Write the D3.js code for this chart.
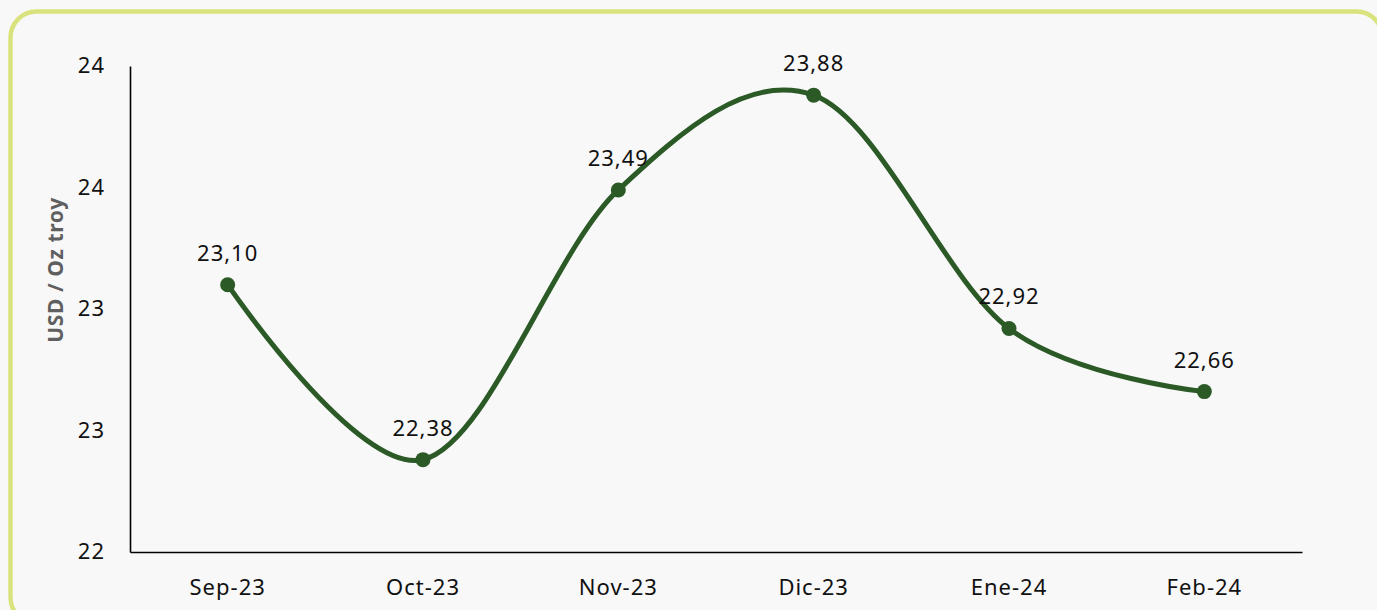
<!DOCTYPE html>
<html>
<head>
<meta charset="utf-8">
<script src="https://cdn.jsdelivr.net/npm/d3@7/dist/d3.min.js"></script>
<style>
  html, body { margin: 0; padding: 0; background: #f8f8f8; }
  svg { display: block; }
  text { font-family: "Noto Sans", "Open Sans", sans-serif; }
</style>
</head>
<body>
<svg id="chart" width="1377" height="610"></svg>
<script>
const categories = ["Sep-23", "Oct-23", "Nov-23", "Dic-23", "Ene-24", "Feb-24"];
const values = [23.10, 22.38, 23.49, 23.88, 22.92, 22.66];
const valueLabels = ["23,10", "22,38", "23,49", "23,88", "22,92", "22,66"];
const yTicks = [22, 22.5, 23, 23.5, 24];
const yTickLabels = ["22", "23", "23", "24", "24"];
const yTitle = "USD / Oz troy";

(function () {
const svg = d3.select("#chart");
const W = 1377, H = 610;
const FONT = '"Noto Sans", sans-serif';

svg.append("rect").attr("x", 0).attr("y", 0).attr("width", W).attr("height", H).attr("fill", "#f8f8f8");
svg.append("rect")
  .attr("x", 10.5).attr("y", 11.5).attr("width", 1372).attr("height", 612)
  .attr("rx", 26).attr("ry", 26)
  .attr("fill", "#f8f8f8").attr("stroke", "#d9e37e").attr("stroke-width", 4.5);

const mLeft = 130, mRight = 1302, mTop = 66, mBottom = 552;

const x = d3.scaleBand().domain(categories).range([mLeft, mRight]).padding(0);
const y = d3.scaleLinear().domain([22, 24]).range([mBottom, mTop]);
const cx = d => x(d) + x.bandwidth() / 2;

// y axis
const yAxis = d3.axisLeft(y).tickValues(yTicks).tickSize(0).tickPadding(0)
  .tickFormat((d, i) => yTickLabels[i]);
const gy = svg.append("g").attr("transform", `translate(${mLeft},0)`).call(yAxis);
gy.select(".domain").attr("stroke", "#000").attr("stroke-width", 1.6);
gy.selectAll("text").attr("x", -25).attr("text-anchor", "end")
  .attr("font-size", 22).attr("fill", "#111").attr("dy", "0.3em")
  .attr("letter-spacing", 1)
  .style("font-family", FONT);

// x axis
const xAxis = d3.axisBottom(x).tickSize(0).tickPadding(0);
const gx = svg.append("g").attr("transform", `translate(0,${mBottom})`).call(xAxis);
gx.select(".domain").attr("stroke", "#000").attr("stroke-width", 1.6);
gx.selectAll("text").attr("y", 43).attr("dy", "0")
  .attr("font-size", 22).attr("fill", "#111").attr("letter-spacing", 1)
  .style("font-family", FONT);

// axis title
svg.append("text")
  .attr("transform", `translate(63,270) rotate(-90)`)
  .attr("text-anchor", "middle")
  .attr("font-size", 21).attr("font-weight", "bold").attr("fill", "#5f5f5f")
  .attr("letter-spacing", 0.6)
  .text(yTitle);

// line
const data = categories.map((c, i) => ({ c, v: values[i], l: valueLabels[i] }));
const line = d3.line().x(d => cx(d.c)).y(d => y(d.v)).curve(d3.curveCatmullRom.alpha(0));
svg.append("path").datum(data).attr("d", line)
  .attr("fill", "none").attr("stroke", "#2b5a27").attr("stroke-width", 5)
  .attr("stroke-linecap", "round");

svg.selectAll("circle.pt").data(data).enter().append("circle")
  .attr("class", "pt")
  .attr("cx", d => cx(d.c)).attr("cy", d => y(d.v)).attr("r", 7.5)
  .attr("fill", "#2b5a27");

svg.selectAll("text.lbl").data(data).enter().append("text")
  .attr("class", "lbl")
  .attr("x", d => cx(d.c)).attr("y", d => y(d.v) - 24)
  .attr("text-anchor", "middle")
  .attr("font-size", 22).attr("fill", "#111").attr("letter-spacing", 1)
  .text(d => d.l);
})();
</script>
</body>
</html>
